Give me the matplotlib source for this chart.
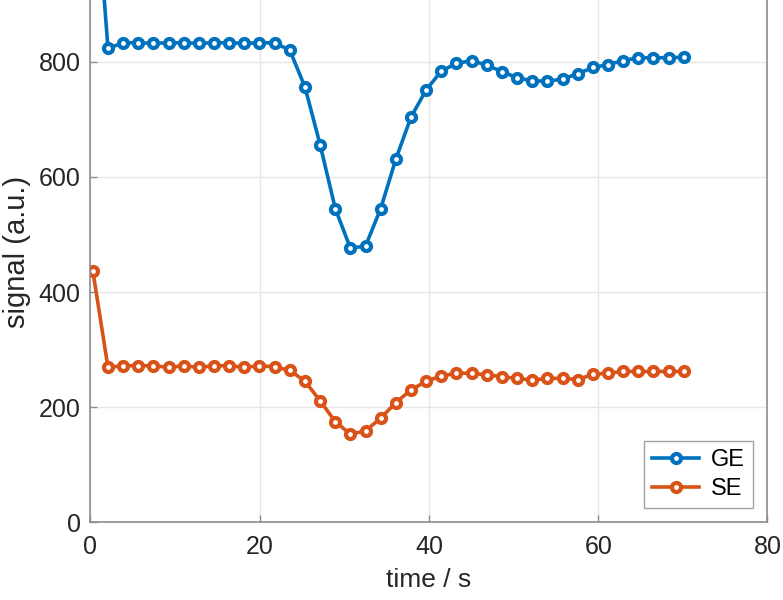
import matplotlib.pyplot as plt

plt.rcParams['font.family'] = ['Liberation Sans', 'DejaVu Sans']

# sample times (s)
t = [0.30, 2.09, 3.88, 5.67, 7.46, 9.25, 11.04, 12.83, 14.62, 16.41,
     18.20, 19.99, 21.78, 23.57, 25.36, 27.15, 28.94, 30.73, 32.52, 34.31,
     36.10, 37.89, 39.68, 41.47, 43.26, 45.05, 46.84, 48.63, 50.42, 52.21,
     54.00, 55.79, 57.58, 59.37, 61.16, 62.95, 64.74, 66.53, 68.32, 70.11]

ge = [1170, 823, 833, 833, 832, 833, 833, 832, 833, 833,
      832, 833, 833, 820, 756, 656, 545, 476, 480, 545,
      631, 704, 751, 784, 797, 802, 794, 783, 772, 767,
      766, 770, 779, 790, 795, 802, 807, 807, 807, 808]

se = [437, 269, 272, 272, 272, 269, 272, 269, 272, 272,
      269, 272, 270, 264, 245, 211, 175, 153, 159, 181,
      208, 230, 245, 254, 259, 259, 256, 253, 250, 247,
      250, 250, 248, 257, 259, 262, 262, 262, 262, 262]

blue = '#0072BD'
orange = '#D95319'

fig = plt.figure(figsize=(7.83, 6), dpi=100)
ax = fig.add_axes([0.1153, 0.1295, 0.8649, 0.9595])

kw = dict(marker='o', lw=2.6, ms=6.5, mew=3.0, mfc='white')
ax.plot(t, ge, color=blue, mec=blue, label='GE', **kw)
ax.plot(t, se, color=orange, mec=orange, label='SE', **kw)

ax.set_xlim(0, 80)
ax.set_ylim(0, 1000)
ax.set_xticks([0, 20, 40, 60, 80])
ax.set_yticks([0, 200, 400, 600, 800, 1000])
ax.set_yticklabels(['0', '200', '400', '600', '800', ''])
ax.grid(True, color='#e6e6e6', lw=1)
ax.set_axisbelow(True)

for s in ax.spines.values():
    s.set_color('#8c8c8c')
    s.set_linewidth(1.2)
ax.tick_params(direction='in', length=5, width=1, color='#8c8c8c',
               labelsize=18, labelcolor='#262626')
ax.tick_params(axis='x', pad=9)
ax.tick_params(axis='y', pad=7)

ax.set_xlabel('time / s', fontsize=19, color='#262626')
ax.set_ylabel('signal (a.u.)', fontsize=21, color='#262626')
ax.xaxis.set_label_coords(0.5, -0.08)
ax.yaxis.set_label_coords(-0.088, 0.47)

leg = ax.legend(loc='lower right', fontsize=17, frameon=True, fancybox=False,
                edgecolor='#8c8c8c', borderaxespad=0.6, handlelength=2.0,
                handletextpad=0.5, borderpad=0.35, labelspacing=0.27)
leg.get_frame().set_linewidth(1.0)

fig.savefig('out.png', dpi=100)
